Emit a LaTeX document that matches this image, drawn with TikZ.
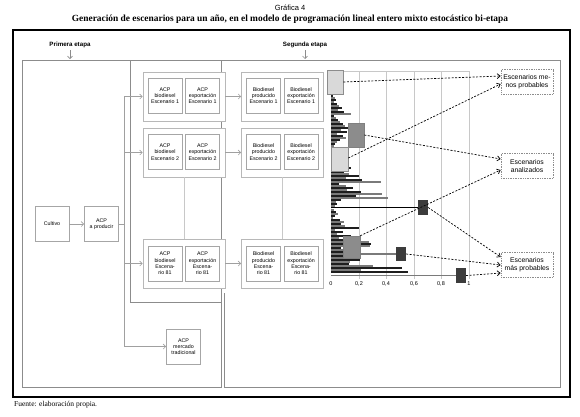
\documentclass[tikz,border=0pt]{standalone}
\usepackage{fontspec}
\setmainfont{Liberation Serif}
\setsansfont{Liberation Sans}
\usetikzlibrary{arrows.meta}
\definecolor{frameg}{HTML}{8C8C8C}
\definecolor{boxg}{HTML}{A6A6A6}
\definecolor{conng}{HTML}{A0A0A0}
\definecolor{lightm}{HTML}{D9D9D9}
\definecolor{midm}{HTML}{8C8C8C}
\definecolor{darkm}{HTML}{3C3C3C}
\definecolor{barA}{HTML}{1E1E1E}
\definecolor{barB}{HTML}{7A7A7A}
\definecolor{gridg}{HTML}{C8C8C8}
\begin{document}
\begin{tikzpicture}[x=1pt,y=-1pt,
  inbox/.style={draw=boxg,line width=0.8pt,fill=white,minimum width=34pt,minimum height=35pt,inner sep=0pt,align=center,font=\sffamily\fontsize{5.3}{6.3}\selectfont},
  grpbox/.style={draw=boxg!80,line width=0.8pt,fill=white,minimum width=82pt,minimum height=49pt,inner sep=0pt},
  lblbox/.style={draw=frameg,densely dotted,line width=0.7pt,fill=white,minimum width=52pt,minimum height=25pt,inner sep=0pt,align=center,font=\sffamily\fontsize{6.8}{8.3}\selectfont},
  garrow/.style={draw=conng,line width=0.6pt,-{Straight Barb[length=2.5pt,width=5pt]}},
  gline/.style={draw=conng,line width=0.6pt},
  darrow/.style={draw=black,line width=0.7pt,dash pattern=on 2pt off 1.5pt,-{Straight Barb[length=3pt,width=5pt]}},
  stagelbl/.style={font=\sffamily\bfseries\fontsize{6.2}{7}\selectfont,inner sep=0pt},
  axlbl/.style={font=\sffamily\fontsize{5.5}{6}\selectfont,inner sep=0pt},
  framel/.style={draw=frameg,line width=1pt},
]
\useasboundingbox (0,0) rectangle (580,416);

% titles
\node[font=\sffamily\fontsize{7.5}{9}\selectfont,inner sep=0pt] (gtitle) at (290,8) {Gráfica 4};
\node[font=\bfseries\fontsize{9.4}{11}\selectfont,inner sep=0pt] (title) at (290,19) {Generación de escenarios para un año, en el modelo de programación lineal entero mixto estocástico bi-etapa};
\node[font=\fontsize{7.5}{9}\selectfont,anchor=west,inner sep=0pt] (fuente) at (14,405) {Fuente: elaboración propia.};

% outer frame
\draw[black,line width=1.3pt] (13,30) rectangle (570,397);

% stage labels
\node[stagelbl] (prim) at (70,45) {Primera etapa};
\node[stagelbl] (seg) at (305,45) {Segunda etapa};
\coordinate (primt) at (70,59);
\coordinate (segt) at (305,59);
\draw[draw=frameg,line width=0.6pt,-{Straight Barb[length=2.5pt,width=5pt]}] (prim.south) ++(0,2) -- (primt);
\draw[draw=frameg,line width=0.6pt,-{Straight Barb[length=2.5pt,width=5pt]}] (seg.south) ++(0,2) -- (segt);

% inner frames
\draw[framel] (22,60) rectangle (221,387);
\draw[framel] (130,60) -- (130,302) -- (221,302);
\draw[framel] (221,60) -- (560,60) -- (560,387) -- (224,387) -- (224,293);

% first-stage nodes
\node[inbox] (cult) at (52,224) {Cultivo};
\node[inbox] (acpp) at (101.5,224) {ACP\\a producir};
\node[inbox] (mt) at (183.5,346.5) {ACP\\mercado\\tradicional};

% scenario groups (ACP)
\node[grpbox] (g1) at (184,96.5) {};
\node[grpbox] (g2) at (184,152.5) {};
\node[grpbox] (g81) at (184,263.5) {};
\node[inbox] (a1b) at (165,95.5) {ACP\\biodiesel\\Escenario 1};
\node[inbox] (a1e) at (202.5,95.5) {ACP\\exportación\\Escenario 1};
\node[inbox] (a2b) at (165,152) {ACP\\biodiesel\\Escenario 2};
\node[inbox] (a2e) at (202.5,152) {ACP\\exportación\\Escenario 2};
\node[inbox] (a81b) at (165,263.5) {ACP\\biodiesel\\Escena-\\rio 81};
\node[inbox] (a81e) at (202.5,263.5) {ACP\\exportación\\Escena-\\rio 81};

% scenario groups (Biodiesel)
\node[grpbox] (h1) at (282.5,96.5) {};
\node[grpbox] (h2) at (282.5,152.5) {};
\node[grpbox] (h81) at (282.5,263.5) {};
\node[inbox] (b1p) at (263.5,95.5) {Biodiesel\\producido\\Escenario 1};
\node[inbox] (b1e) at (301,95.5) {Biodiesel\\exportación\\Escenario 1};
\node[inbox] (b2p) at (263.5,152) {Biodiesel\\producido\\Escenario 2};
\node[inbox] (b2e) at (301,152) {Biodiesel\\exportación\\Escenario 2};
\node[inbox] (b81p) at (263.5,263.5) {Biodiesel\\producido\\Escena-\\rio 81};
\node[inbox] (b81e) at (301,263.5) {Biodiesel\\exportación\\Escena-\\rio 81};

% continuation lines
\draw[draw=gridg,line width=0.5pt] (g2.south) -- (g81.north);
\draw[draw=gridg,line width=0.5pt] (h2.south) -- (h81.north);

% connectors first stage
\coordinate (bt) at (124,96.5);
\coordinate (bm) at (124,224);
\coordinate (b2) at (124,152.5);
\coordinate (b81) at (124,263.5);
\coordinate (bb) at (124,346.5);
\draw[garrow] (cult) -- (acpp);
\draw[gline] (acpp.east) -- (bm);
\draw[gline] (bt) -- (bb);
\draw[garrow] (bt) -- (g1.west);
\draw[garrow] (b2) -- (g2.west);
\draw[garrow] (b81) -- (g81.west);
\draw[garrow] (bb) -- (mt.west);
\draw[garrow] (g1.east) -- (h1.west);
\draw[garrow] (g2.east) -- (h2.west);
\draw[garrow] (g81.east) -- (h81.west);

% chart grid
\draw[draw=gridg,line width=0.6pt] (331,71) -- (469,71);
\foreach \gx in {359,386,414,441,469} \draw[draw=gridg,line width=0.6pt] (\gx,71) -- (\gx,279);

% bars
\foreach \l [count=\i from 0] in {2,4,5,3,6,8,11,7,13,20,3,5,7,
  9,12,14,18,10,16,6,12,15,9,6,4,3,
  3,5,4,2,6,4,3,8,6,4,20,5,
  13,18,28,15,31,50,8,15,22,16,30,51,25,57,10,5,6,4,
  0,
  3,5,7,4,2,9,13,10,14,28,4,12,6,20,
  8,12,38,40,39,10,15,29,29,30,19,
  29,19,18,42,71,30,77}{
  \pgfmathtruncatemacro\bpar{mod(\i,2)}
  \ifnum\bpar=0 \def\bc{barA}\else\def\bc{barB}\fi
  \fill[\bc] (331,{96+2*\i-0.65}) rectangle ++(\l,1.3);
}

% axis labels
\node[axlbl] (ax0) at (331,284) {0};
\node[axlbl] (ax1) at (359,284) {0,2};
\node[axlbl] (ax2) at (386,284) {0,4};
\node[axlbl] (ax3) at (414,284) {0,6};
\node[axlbl] (ax4) at (441,284) {0,8};
\node[axlbl] (ax5) at (469,284) {1};

% markers
\node[draw=frameg,fill=lightm,line width=0.6pt,minimum width=16pt,minimum height=24pt,inner sep=0pt] (lb1) at (335,82) {};
\node[draw=gray,fill=midm,line width=0.6pt,minimum width=16pt,minimum height=24pt,inner sep=0pt] (mb1) at (356,135) {};
\node[draw=frameg,fill=lightm,line width=0.6pt,minimum width=17pt,minimum height=24pt,inner sep=0pt] (lb2) at (339.5,159) {};
\node[draw=gray,fill=midm,line width=0.6pt,minimum width=17pt,minimum height=22pt,inner sep=0pt] (mb2) at (351.5,247) {};
\node[fill=darkm,minimum width=10pt,minimum height=15pt,inner sep=0pt] (ds1) at (423,207.5) {};
\node[fill=darkm,minimum width=10pt,minimum height=14pt,inner sep=0pt] (ds2) at (401,254) {};
\node[fill=darkm,minimum width=10pt,minimum height=15pt,inner sep=0pt] (ds3) at (461,275.5) {};
\coordinate (axs1) at (331,207.5);
\coordinate (axs3) at (331,275.5);
\draw[black,line width=1.4pt] (axs1) -- (ds1.west);
\draw[barB,line width=1.4pt] (mb2.east |- ds2.west) -- (ds2.west);
\draw[barB,line width=1.4pt] (axs3) -- (ds3.west);

% right labels
\node[lblbox] (lmp) at (527,82) {Escenarios me-\\nos probables};
\node[lblbox] (lan) at (527,166) {Escenarios\\analizados};
\node[lblbox] (lmas) at (527,265) {Escenarios\\más probables};

% dashed connectors
\draw[darrow] (lb1.east) -- ([yshift=6pt]lmp.west);
\draw[darrow] ([yshift=1pt]lb2.east) -- ([yshift=-2pt]lmp.west);
\draw[darrow] (mb1.east) -- ([yshift=7pt]lan.west);
\draw[darrow] (mb2.north east) -- ([yshift=-4pt]lan.west);
\draw[darrow] (ds1.east) -- ([yshift=8pt]lmas.west);
\draw[darrow] (ds2.east) -- (lmas.west);
\draw[darrow] (ds3.east) -- ([yshift=-8pt]lmas.west);
\end{tikzpicture}
\end{document}
